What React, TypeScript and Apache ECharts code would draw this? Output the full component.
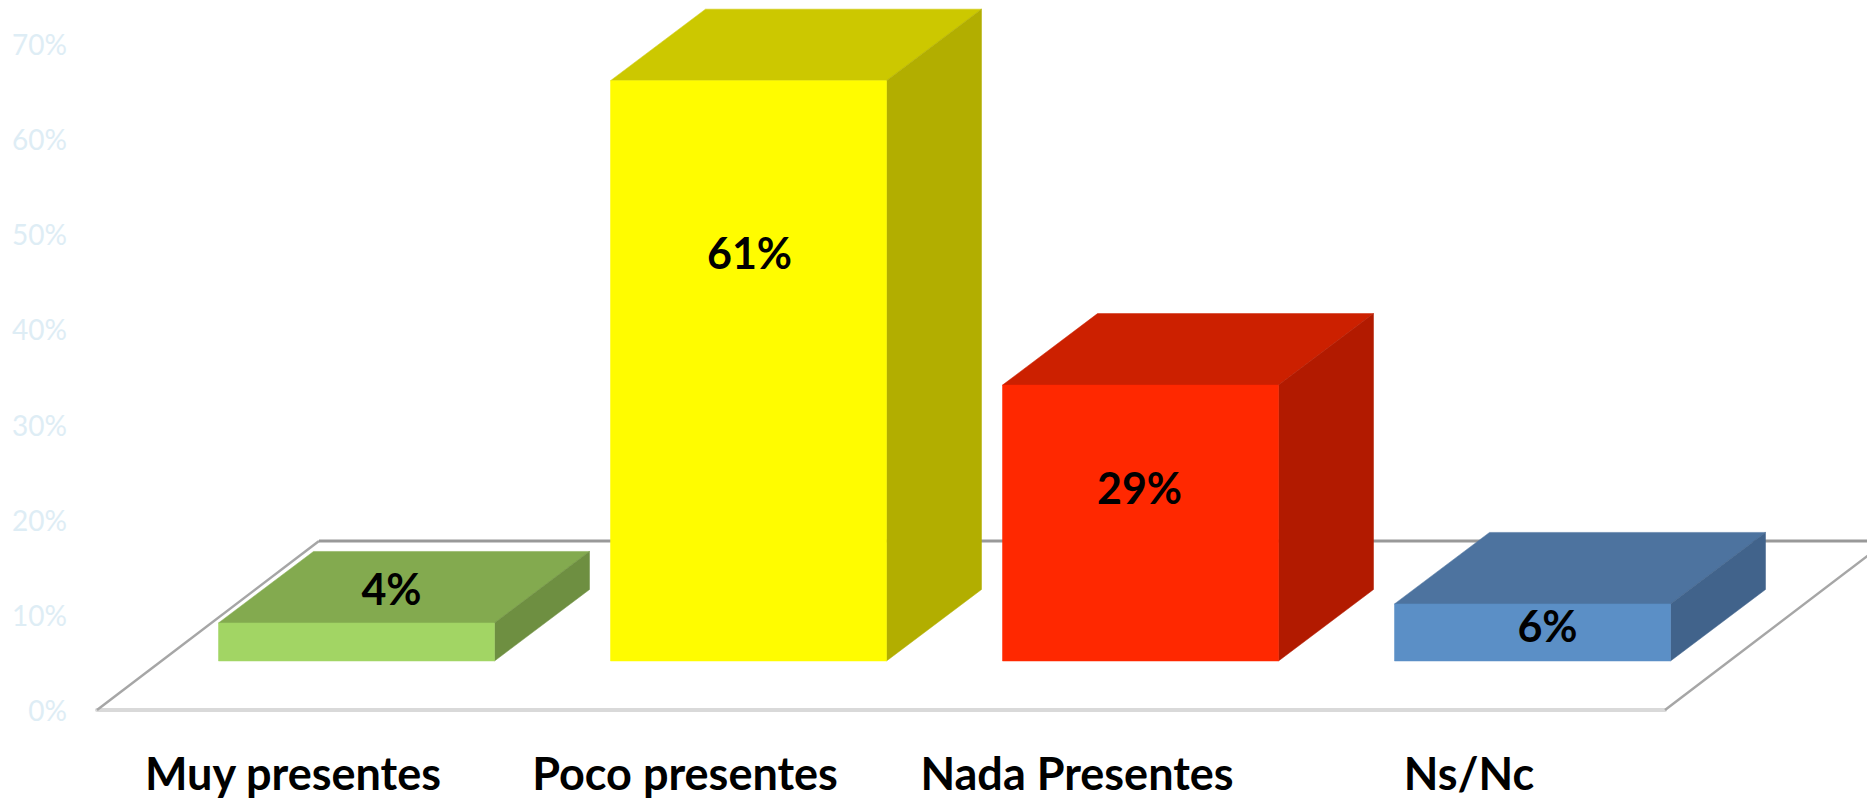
import React, { useEffect, useRef } from "react";
import * as echarts from "echarts";

const categories = ["Muy presentes", "Poco presentes", "Nada Presentes", "Ns/Nc"];
const values = [4, 61, 29, 6];
const yTicks = { min: 0, max: 70, interval: 10 };

const faceColors = ["#A2D564", "#FFFC00", "#FF2800", "#5B8FC6"];
const topColors = ["#83AA4F", "#CCC800", "#CC2000", "#4D739F"];
const sideColors = ["#6E8F41", "#B2AE00", "#B21A00", "#41638B"];

// Manual placement of the value labels, relative to the top centre of each bar's front face
const labelNudgeX = [35, 1, -1, 15];
const labelNudgeY = [-34, 172, 102, 22];

const FONT = "Lato, Carlito, sans-serif";
const BAR_W = 276;
const BAR_DX = 95;
const BAR_DY = 71.5;
const BAR_SHIFT_X = 63.5;
const BAR_SHIFT_Y = 49;
const FLOOR_DX = 222;
const FLOOR_DY = 169;

function poly(points: number[][], fill: string) {
  return {
    type: "polygon",
    shape: { points },
    style: { fill, stroke: fill, lineWidth: 0.5 },
  };
}

function renderFloor(params: any) {
  const c = params.coordSys;
  const x0 = c.x;
  const x1 = c.x + c.width;
  const y = c.y + c.height;
  const side = { stroke: "#A6A6A6", lineWidth: 2.5, fill: "none" };
  const back = { stroke: "#999999", lineWidth: 3, fill: "none" };
  return {
    type: "group",
    children: [
      {
        type: "polyline",
        shape: { points: [[x0, y], [x0 + FLOOR_DX, y - FLOOR_DY]] },
        style: side,
      },
      {
        type: "polyline",
        shape: { points: [[x1 + FLOOR_DX, y - FLOOR_DY], [x1, y]] },
        style: side,
      },
      {
        type: "polyline",
        shape: { points: [[x0 + FLOOR_DX, y - FLOOR_DY], [x1 + FLOOR_DX, y - FLOOR_DY]] },
        style: back,
      },
    ],
  };
}

function renderBar(params: any, api: any) {
  const i = params.dataIndex;
  const base = api.coord([i, 0]);
  const top = api.coord([i, api.value(1)]);
  const l = base[0] + BAR_SHIFT_X - BAR_W / 2;
  const r = l + BAR_W;
  const b = base[1] - BAR_SHIFT_Y;
  const t = top[1] - BAR_SHIFT_Y;
  const cx = (l + r) / 2;
  return {
    type: "group",
    children: [
      poly([[l, t], [l + BAR_DX, t - BAR_DY], [r + BAR_DX, t - BAR_DY], [r, t]], topColors[i]),
      poly([[r, t], [r + BAR_DX, t - BAR_DY], [r + BAR_DX, b - BAR_DY], [r, b]], sideColors[i]),
      poly([[l, t], [r, t], [r, b], [l, b]], faceColors[i]),
      {
        type: "text",
        z2: 10,
        style: {
          x: cx + labelNudgeX[i],
          y: t + labelNudgeY[i],
          text: values[i] + "%",
          fill: "#000",
          font: `bold 43px ${FONT}`,
          align: "center",
          verticalAlign: "middle",
        },
      },
    ],
  };
}

export default function App() {
  const ref = useRef<HTMLDivElement>(null);
  useEffect(() => {
    document.body.style.margin = "0";
    const chart = echarts.init(ref.current!, null, { renderer: "svg" });
    chart.setOption({
      animation: false,
      backgroundColor: "#fff",
      grid: { left: 97, top: 44, width: 1568, height: 666, containLabel: false },
      xAxis: {
        type: "category",
        data: categories,
        axisTick: { show: false },
        axisLine: { show: true, lineStyle: { color: "#D9D9D9", width: 4 } },
        axisLabel: {
          color: "#000",
          fontFamily: FONT,
          fontWeight: "bold",
          fontSize: 45,
          margin: 40,
          interval: 0,
          hideOverlap: false,
        },
      },
      yAxis: {
        type: "value",
        min: yTicks.min,
        max: yTicks.max,
        interval: yTicks.interval,
        splitLine: { show: false },
        axisLine: { show: false },
        axisTick: { show: false },
        axisLabel: {
          color: "#DEEDF5",
          fontFamily: FONT,
          fontSize: 28,
          margin: 30,
          padding: [6, 0, 0, 0],
          formatter: "{value}%",
        },
      },
      series: [
        { type: "custom", renderItem: renderFloor, data: [0], z: 1, silent: true, clip: false },
        {
          type: "custom",
          renderItem: renderBar,
          data: values.map((v, i) => [i, v]),
          encode: { x: 0, y: 1 },
          z: 2,
          silent: true,
          clip: false,
        },
      ],
    });
    return () => chart.dispose();
  }, []);
  return <div ref={ref} style={{ width: 1867, height: 798 }} />;
}
